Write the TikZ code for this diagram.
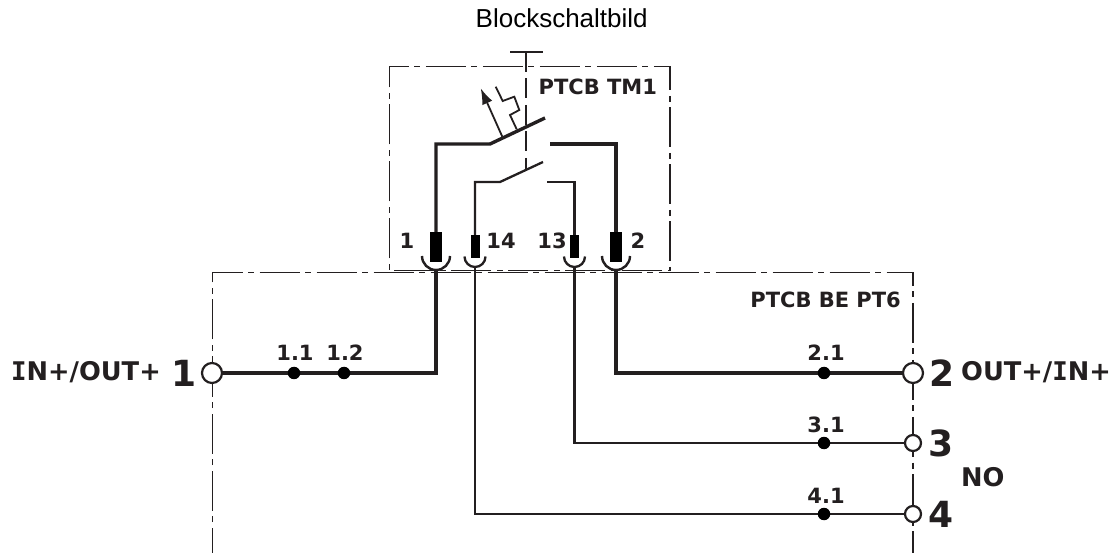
\documentclass[tikz,border=0pt]{standalone}
\usepackage{fontspec}
\setmainfont{DejaVu Sans}
\newfontfamily\capfont{Liberation Sans}
\newfontfamily\serifI{DejaVu Sans Mono}
\usetikzlibrary{arrows.meta}
\definecolor{ink}{HTML}{231F20}
\tikzset{
  x=1pt,y=-1pt,
  frame/.style={draw=ink,line width=1.5pt,dash pattern=on 40pt off 5.5pt on 6pt off 5.5pt},
  heavy/.style={draw=ink,line width=3.4pt},
  light/.style={draw=ink,line width=2.3pt},
  thin wire/.style={draw=ink,line width=1.8pt},
  port/.style={circle,draw=ink,fill=white,inner sep=0pt,line width=2.2pt},
  bigport/.style={port,minimum size=20pt},
  smallport/.style={port,minimum size=16pt},
  junction/.style={circle,fill=black,inner sep=0pt,minimum size=12.5pt},
  pin/.style={fill=black,inner sep=0pt,anchor=north},
  widepin/.style={pin,minimum width=12pt,minimum height=30pt},
  narrowpin/.style={pin,minimum width=9pt,minimum height=23pt},
  lab/.style={font=\fontsize{21}{24}\selectfont\bfseries,text=ink,inner sep=0pt},
  small/.style={font=\fontsize{21}{24}\selectfont\bfseries,text=ink,inner sep=0pt},
  side/.style={font=\fontsize{25.7}{30}\selectfont\bfseries,text=ink,inner sep=0pt},
  num/.style={font=\fontsize{36}{40}\selectfont\bfseries,text=ink,inner sep=0pt}
}
\begin{document}
\begin{tikzpicture}
\useasboundingbox (0,0) rectangle (1117,553);
\fill[white] (0,0) rectangle (1117,553);
\draw[frame,dash phase=44.7] (389.5,270.7) -- (389.5,66.7) -- (670,66.7) -- (670,270.7) -- cycle;
\draw[frame,dash phase=14.5] (212.5,553) -- (212.5,272.5) -- (913,272.5) -- (913,553);
\node[widepin] (p1) at (436,232) {};
\node[narrowpin] (p14) at (475,235) {};
\node[narrowpin] (p13) at (574.5,235) {};
\node[widepin] (p2) at (616,232) {};
\node[bigport] (t1) at (212,373) {};
\node[bigport] (t2) at (913,373) {};
\node[smallport] (t3) at (913,443) {};
\node[smallport] (t4) at (913,514) {};
\coordinate (c1) at (436,144);
\coordinate (c1a) at (490,144);
\coordinate (c1b) at (545,118);
\coordinate (c2a) at (550,144);
\coordinate (c2) at (616,144);
\coordinate (c3) at (475,182);
\coordinate (c3a) at (500,182);
\coordinate (c3b) at (543,162);
\coordinate (c4a) at (547,182);
\coordinate (c4) at (574.5,182);
\coordinate (b1) at (436,270);
\coordinate (b14) at (475,267);
\coordinate (b13) at (574.5,267);
\coordinate (b2) at (616,270);
\coordinate (w1) at (436,373);
\coordinate (w2) at (616,373);
\coordinate (w3) at (574.5,443);
\coordinate (w4) at (475,514);
% cups
\draw[draw=ink,line width=2.4pt] (422,256) arc[start angle=180,end angle=0,radius=14];
\draw[draw=ink,line width=2.4pt] (602,256) arc[start angle=180,end angle=0,radius=14];
\draw[light] (464.5,256.5) arc[start angle=180,end angle=0,radius=10.5];
\draw[light] (564,256.5) arc[start angle=180,end angle=0,radius=10.5];
% inner contacts
\draw[heavy] (p1.north) -- (c1) -- (c1a) -- (c1b);
\draw[heavy] (c2a) -- (c2) -- (p2.north);
\draw[light] (p14.north) -- (c3) -- (c3a) -- (c3b);
\draw[light] (c4a) -- (c4) -- (p13.north);
% mechanical link
\coordinate (m0) at (526,52);
\coordinate (m1) at (526,170);
\draw[draw=ink,line width=2.6pt] (510,52) -- (543,52);
\draw[draw=ink,line width=2.6pt,dash pattern=on 20pt off 6.5pt] (m0) -- (m1);
% thermal release
\draw[thin wire] (516.7,129.3) -- (510,115) -- (519.3,110) -- (514.3,96.7) -- (502.7,101) -- (495.7,86.7);
\draw[thin wire,-{Latex[length=16pt,width=11pt]}] (502.3,136.7) -- (480.7,88.3);
% outer wires
\draw[heavy] (b1) -- (w1) -- (t1.east);
\draw[heavy] (b2) -- (w2) -- (t2.west);
\draw[light] (b13) -- (w3) -- (t3.west);
\draw[light] (b14) -- (w4) -- (t4.west);
\node[junction] (j11) at (294,373) {};
\node[junction] (j12) at (344,373) {};
\node[junction] (j21) at (824,373) {};
\node[junction] (j31) at (824,443) {};
\node[junction] (j41) at (824,514) {};
% labels
\node[font=\capfont\fontsize{26}{30}\selectfont,inner sep=0pt] (title) at (561.7,18) {Blockschaltbild};
\node[lab,anchor=west] (tm) at (538.5,87) {PTCB TM1};
\node[lab,anchor=east] (be) at (901,300) {PTCB BE PT6};
\node[small] (n1) at (407,241) {1};
\node[small] (n14) at (501,241) {14};
\node[small] (n13) at (552,241) {13};
\node[small] (n2) at (638,241) {2};
\node[small] (l11) at (295,353) {1.1};
\node[small] (l12) at (345,353) {1.2};
\node[small] (l21) at (826,353) {2.1};
\node[small] (l31) at (826,425) {3.1};
\node[small] (l41) at (826,496) {4.1};
\node[side,anchor=east] (io1) at (161,372) {{\serifI I}N+/OUT+};
\node[side,anchor=west] (io2) at (961,372) {OUT+/{\serifI I}N+};
\node[side,anchor=west] (no) at (961,477) {NO};
\node[num] (d1) at (184,373) {1};
\node[num] (d2) at (942,373) {2};
\node[num] (d3) at (941,443) {3};
\node[num] (d4) at (941,514) {4};
\end{tikzpicture}
\end{document}
